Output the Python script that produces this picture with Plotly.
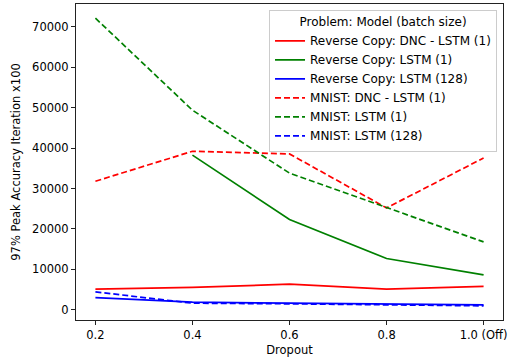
import plotly.graph_objects as go

dropout = [0.2, 0.4, 0.6, 0.8, 1.0]
tick_labels = ["0.2", "0.4", "0.6", "0.8", "1.0 (Off)"]

rc_dnc_1 = [5150, 5550, 6350, 5150, 5800]
rc_lstm_1 = [None, 38250, 22350, 12700, 8650]
rc_lstm_128 = [3050, 1900, 1650, 1400, 1250]
mnist_dnc_1 = [31800, 39200, 38550, 25200, 37550]
mnist_lstm_1 = [72100, 49350, 33800, 25200, 16800]
mnist_lstm_128 = [4450, 1650, 1500, 1200, 1000]

series = [
    ("Reverse Copy: DNC - LSTM (1)", rc_dnc_1, "#ff0000", "solid"),
    ("Reverse Copy: LSTM (1)", rc_lstm_1, "#008000", "solid"),
    ("Reverse Copy: LSTM (128)", rc_lstm_128, "#0000ff", "solid"),
    ("MNIST: DNC - LSTM (1)", mnist_dnc_1, "#ff0000", "6px,3px"),
    ("MNIST: LSTM (1)", mnist_lstm_1, "#008000", "6px,3px"),
    ("MNIST: LSTM (128)", mnist_lstm_128, "#0000ff", "6px,3px"),
]

fig = go.Figure()
for name, vals, color, dash in series:
    fig.add_trace(go.Scatter(
        x=dropout, y=vals, mode="lines", name=name,
        line=dict(color=color, width=1.7, dash=dash),
        connectgaps=False,
    ))

font = dict(family="DejaVu Sans", size=11.5, color="#000000")
lfont = dict(family="DejaVu Sans", size=12, color="#000000")
axis_common = dict(
    showline=True, linecolor="#222222", linewidth=1, mirror=True,
    ticks="outside", ticklen=4, tickwidth=1, tickcolor="#222222",
    showgrid=False, zeroline=False, tickfont=font,
)

fig.update_layout(
    width=514, height=358,
    margin=dict(l=76, r=11, t=3, b=37),
    paper_bgcolor="white", plot_bgcolor="white",
    font=font,
    xaxis=dict(
        range=[0.16, 1.04], tickvals=dropout, ticktext=tick_labels,
        title=dict(text="Dropout", font=font, standoff=5),
        **axis_common,
    ),
    yaxis=dict(
        range=[-2500, 75600], tickvals=[0, 10000, 20000, 30000, 40000, 50000, 60000, 70000],
        tickformat="d",
        title=dict(text="97% Peak Accuracy Iteration x100", font=font, standoff=9),
        **axis_common,
    ),
    legend=dict(
        x=0.986, y=0.982, xanchor="right", yanchor="top",
        bgcolor="rgba(255,255,255,0.8)", bordercolor="#cccccc", borderwidth=1,
        font=lfont,
        title=dict(text="Problem: Model (batch size)", side="top center", font=lfont),
        itemwidth=30,
    ),
    showlegend=True,
)

fig.write_html("out.html")
